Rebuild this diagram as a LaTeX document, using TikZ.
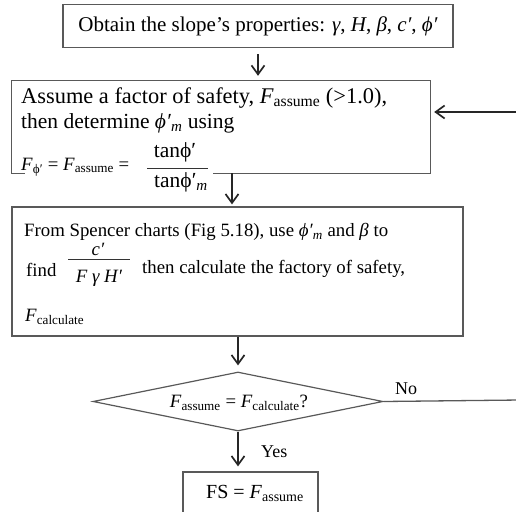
\documentclass[tikz,border=0pt]{standalone}
\usepackage{fontspec}
\setmainfont{Liberation Serif}
\usetikzlibrary{arrows.meta,shapes.geometric,calc}

% F with an upright subscript, and phi' with subscript m
\newcommand\Fsb[1]{\textit{F}\textsubscript{#1}}
\newcommand\phim{\textit{ϕ′}\textsubscript{\textit{m}}}

\tikzset{
  outline/.style={draw=black!65, line width=1.2pt},
  flowbox/.style={outline, rectangle, inner sep=0pt},
  ghostbox/.style={rectangle, inner sep=0pt},
  txt/.style={inner sep=0pt, font=\fontsize{21.5}{25}\selectfont},
  bigtxt/.style={inner sep=0pt, font=\fontsize{22.4}{26}\selectfont},
  titletxt/.style={inner sep=0pt, font=\fontsize{21}{25}\selectfont},
  smalltxt/.style={inner sep=0pt, font=\fontsize{18.8}{22}\selectfont},
  labeltxt/.style={inner sep=0pt, font=\fontsize{18}{21}\selectfont},
  flow/.style={draw=black!85, line width=1.7pt,
    -{Straight Barb[length=9pt,width=13pt,line width=1.7pt]}},
  plainline/.style={draw=black!65, line width=1.3pt},
  fracbar/.style={draw=black!80, line width=0.7pt},
}

\begin{document}
\begin{tikzpicture}[x=1pt,y=-1pt]
\useasboundingbox (0,0) rectangle (516,511);
\clip (0,0) rectangle (516,511);

% step 1: slope properties
\node[flowbox, minimum width=390pt, minimum height=43pt, titletxt] (obtain) at (258,26)
  {Obtain the slope’s properties: \textit{γ}, \textit{H}, \textit{β}, \textit{c′}, \textit{ϕ′}};

% step 2: assumed factor of safety (outline drawn by hand, bottom edge broken)
\node[ghostbox, minimum width=418pt, minimum height=92pt] (assume) at (221,127) {};
\draw[outline] ($(assume.south west)+(13,0)$) -- (assume.south west)
  -- (assume.north west) -- (assume.north east) -- (assume.south east)
  -- ($(assume.south west)+(201,0)$);
\node[bigtxt, anchor=west] (a1) at (21,98) {Assume a factor of safety, \Fsb{assume} (>1.0),};
\node[txt, anchor=west] (a2) at (21,123) {then determine \phim\ using};
\node[smalltxt, anchor=west] (a3) at (21,167) {\Fsb{ϕ′} = \Fsb{assume} =};
\node[txt] (anum) at (175,152) {tanϕ′};
\node[txt] (aden) at (181,182) {tanϕ′\textsubscript{\textit{m}}};
\draw[fracbar] (147,168) -- (208,168);

% step 3: Spencer charts
\node[flowbox, minimum width=451pt, minimum height=129pt] (spencer) at (237.5,271.5) {};
\node[smalltxt, anchor=west] (s1) at (24,232) {From Spencer charts (Fig 5.18), use \phim\ and \textit{β} to};
\node[smalltxt, anchor=west] (s2) at (26,270) {find};
\node[smalltxt] (snum) at (98,249) {\textit{c′}};
\node[smalltxt] (sden) at (99,278) {\textit{F γ H′}};
\draw[fracbar] (68,259) -- (130,259);
\node[smalltxt, anchor=west] (s3) at (142,269) {then calculate the factory of safety,};
\node[smalltxt, anchor=west] (s4) at (25,317) {\Fsb{calculate}};

% decision
\node[diamond, outline, inner sep=0pt, minimum width=290pt, minimum height=59pt] (check) at (238,401.5) {};
\node[smalltxt] (qtext) at (239,403) {\Fsb{assume} = \Fsb{calculate}?};

% result
\node[flowbox, minimum width=135pt, minimum height=48pt] (result) at (250.5,496) {};
\node[txt, font=\fontsize{20}{24}\selectfont] (rtext) at (255,493) {FS = \Fsb{assume}};

% connectors
\draw[flow] ($(obtain.south)+(0,6)$) -- ($(assume.north -| obtain.south)+(0,-5)$);
\draw[flow] (assume.south -| 232,0) -- ($(spencer.north -| 232,0)+(0,-2)$);
\draw[flow] (spencer.south -| check.north) -- ($(check.north)+(0,-6)$);
\draw[flow] (check.south) -- ($(result.north -| check.south)+(0,-5)$);
\node[labeltxt, anchor=west] (yes) at (261,452) {Yes};

\coordinate (noend) at (520,400);
\draw[plainline] (check.east) -- (noend);
\node[labeltxt, anchor=west] (no) at (395,389) {No};

\coordinate (backstart) at (520,112);
\draw[flow, shorten >=4pt] (backstart) -- (assume.east |- backstart);
\end{tikzpicture}
\end{document}
